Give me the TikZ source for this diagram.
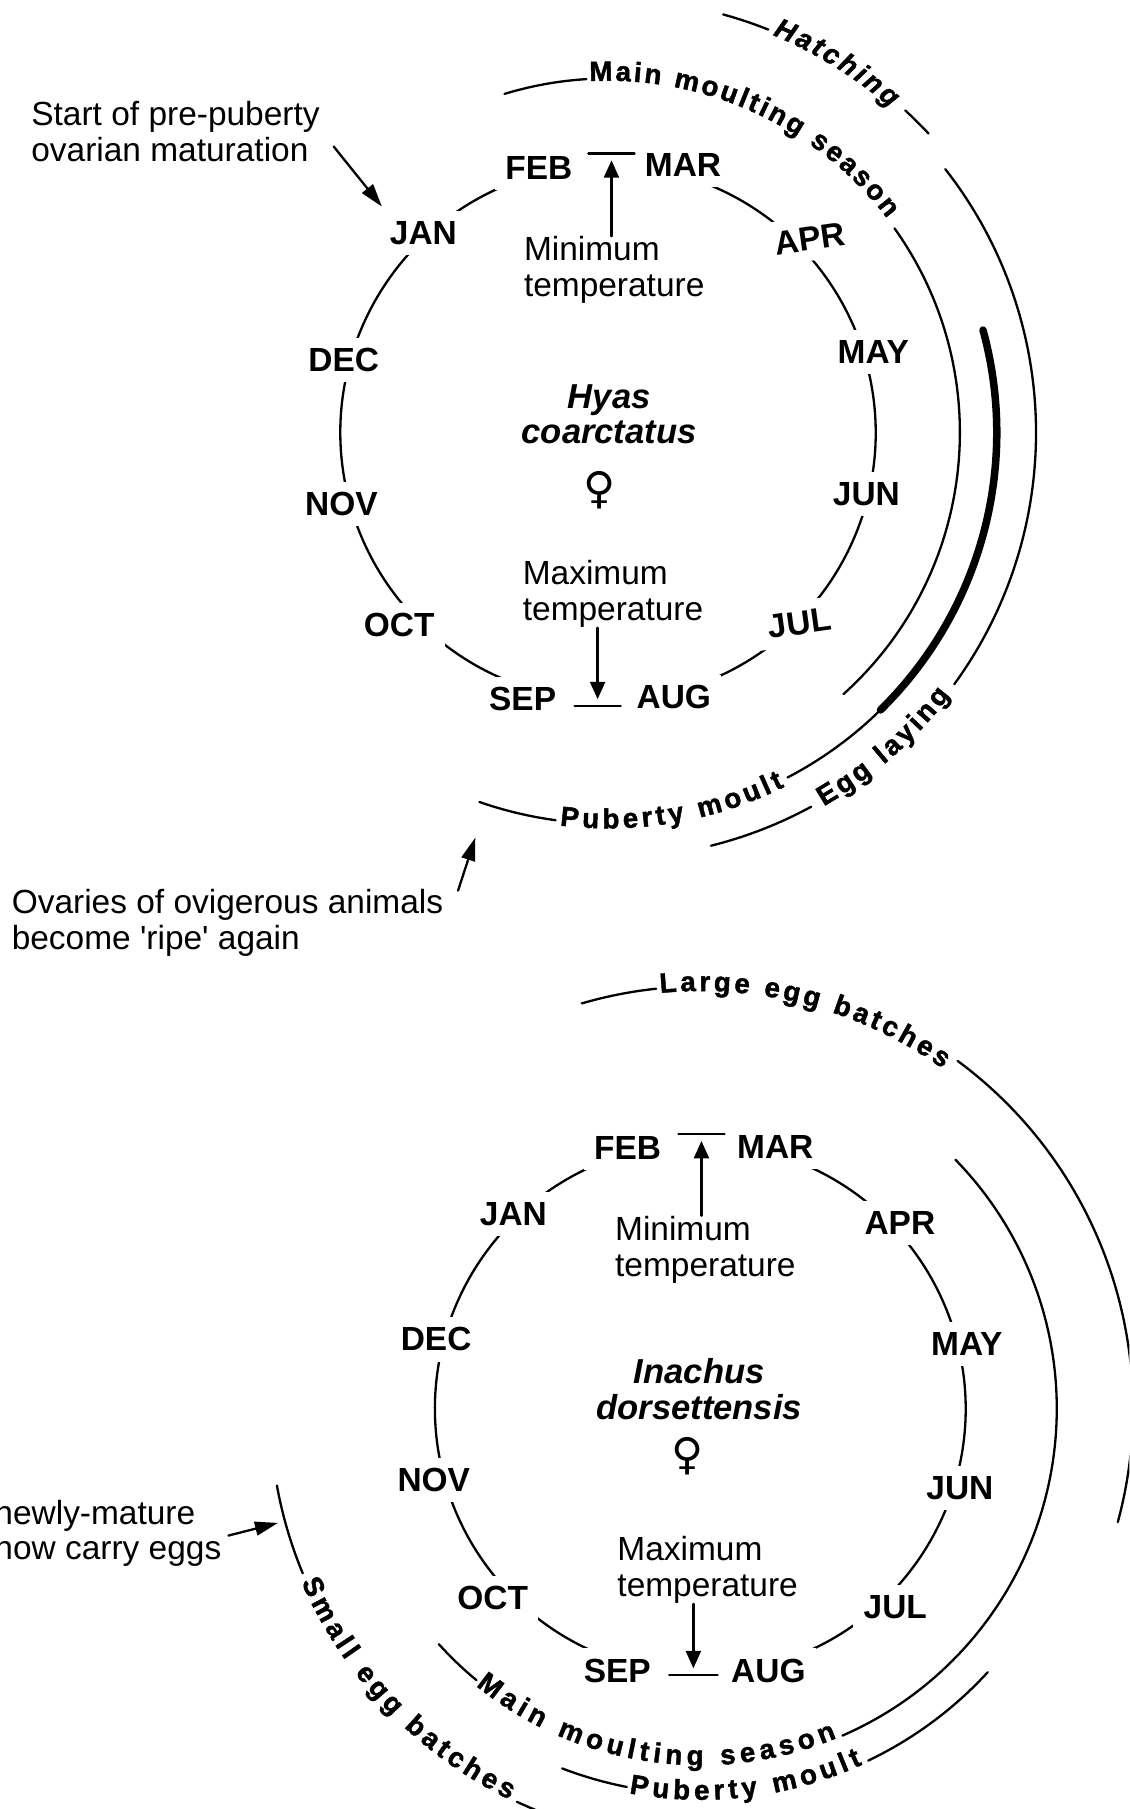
\documentclass[tikz,border=0pt]{standalone}
\usepackage{fontspec}
\setmainfont{Liberation Sans}
\newfontfamily\symfnt{DejaVu Sans}
\newfontfamily\heavyfam{Liberation Sans}[BoldFeatures={FakeBold=1.6},BoldItalicFeatures={FakeBold=1.6}]
\usetikzlibrary{arrows.meta,calc,decorations.text}

\newcommand\monf{\fontsize{29}{30}\selectfont\bfseries}
\newcommand\txtf{\fontsize{29}{31}\selectfont}
\newcommand\spcf{\fontsize{30}{31}\selectfont\bfseries\itshape}
\newcommand\arcf{\heavyfam\bfseries\fontsize{24}{24}\selectfont}
\newcommand\arcif{\heavyfam\bfseries\itshape\fontsize{24}{24}\selectfont}

% plain arc: [opts]{centre}{start}{end}{radius}
\newcommand\carc[5][]{\draw[ln,#1] ($(#2)+(#3:#5pt)$) arc[start angle=#3,end angle=#4,radius=#5pt];}
% text along an arc: {centre}{start}{end}{radius}{font}{text}
\newcommand\tarc[6]{\path[decorate,decoration={text along path,text align={fit to path},text={|#5|#6}}] ($(#1)+(#2:#4pt)$) arc[start angle=#2,end angle=#3,radius=#4pt];}

\begin{document}
\begin{tikzpicture}[x=1pt,y=1pt,
  ln/.style={line width=2pt,line cap=round},
  mon/.style={font=\monf,inner sep=9pt,fill=white},
  txt/.style={font=\txtf,align=left,inner sep=0pt},
  spc/.style={font=\spcf,align=center,inner sep=0pt},
  fem/.style={font=\symfnt\fontsize{38}{38}\selectfont,inner sep=0pt},
  arr/.style={ln,-{Triangle[length=15pt,width=13pt]}},
  arrL/.style={ln,-{Triangle[length=20pt,width=12pt]}}]
\useasboundingbox (0,0) rectangle (979,-1568);
\clip (0,0) rectangle (979,-1568);

%================ TOP : Hyas coarctatus =================
\coordinate (C1) at (527,-375);
\carc{C1}{-76}{74.3}{232}
\carc{C1}{104.7}{252.2}{232}

\node[mon] (feb1) at (467,-146) {FEB};
\node[mon] (mar1) at (592,-143) {MAR};
\node[mon,rotate=8] (apr1) at (702,-207) {APR};
\node[mon] (may1) at (757,-305) {MAY};
\node[mon] (jun1) at (751,-428) {JUN};
\node[mon,rotate=8] (jul1) at (693,-540) {JUL};
\node[mon] (aug1) at (584,-604) {AUG};
\node[mon] (sep1) at (453,-606) {SEP};
\node[mon] (oct1) at (346,-542) {OCT};
\node[mon] (nov1) at (296,-437) {NOV};
\node[mon] (dec1) at (298,-312) {DEC};
\node[mon] (jan1) at (367,-202) {JAN};

\node[txt,anchor=west] (min1) at (454,-234) {Minimum\\temperature};
\node[spc] (sp1) at (528,-359) {Hyas\\coarctatus};
\node[fem] (fem1) at (520,-425) {♀};
\node[txt,anchor=west] (max1) at (453,-515) {Maximum\\temperature};

\coordinate (minbar1) at (530,-133);
\coordinate (maxbar1) at (518,-612);
\draw[ln] ($(minbar1)+(-20,0)$) -- ($(minbar1)+(20,0)$);
\draw[ln] ($(maxbar1)+(-20,0)$) -- ($(maxbar1)+(20,0)$);
\draw[arr] (min1.north -| minbar1) -- ($(minbar1)+(0,-6)$);
\draw[arr] (max1.south -| maxbar1) -- ($(maxbar1)+(0,6)$);

% outer arcs
\carc{C1}{107}{93.5}{307}
\tarc{C1}{93}{37.5}{305}{\arcf}{Main moulting season}
\carc{C1}{35.5}{-48}{305}

\carc{C1}{74.6}{68.3}{376}
\tarc{C1}{67.5}{49}{373}{\arcif}{Hatching}
\carc{C1}{47.3}{43}{380}

\carc{C1}{38}{-36}{371}
\tarc{C1}{-60}{-37.5}{374}{\arcf}{Egg laying}
\carc{C1}{-61.5}{-76}{369}

\carc{C1}{-109.2}{-97.7}{339}
\tarc{C1}{-97}{-63.5}{343}{\arcf}{Puberty moult}
\carc{C1}{-62.5}{-45.5}{337}
\carc[line width=6.5pt]{C1}{-45.5}{15.3}{337}

% side notes
\node[txt,anchor=west] (start) at (27,-114) {Start of pre-puberty\\ovarian maturation};
\coordinate (stail) at ($(start.east)+(12,-13)$);
\coordinate (stip) at (331,-179);
\draw[arrL] (stail) -- (stip);

\node[txt,anchor=west] (ovar) at (10,-800) {Ovaries of ovigerous animals\\become \textquotesingle ripe\textquotesingle{} again};
\coordinate (otail) at (397,-772);
\coordinate (otip) at (412,-726);
\draw[arrL] (otail) -- (otip);

%================ BOTTOM : Inachus dorsettensis =================
\coordinate (C2) at (607,-1221);
\carc{C2}{-75.4}{74}{230}
\carc{C2}{105.6}{252.4}{230}

\node[mon] (feb2) at (544,-995) {FEB};
\node[mon] (mar2) at (672,-994) {MAR};
\node[mon] (apr2) at (780,-1060) {APR};
\node[mon] (may2) at (838,-1165) {MAY};
\node[mon] (jun2) at (832,-1290) {JUN};
\node[mon] (jul2) at (776,-1393) {JUL};
\node[mon] (aug2) at (666,-1448) {AUG};
\node[mon] (sep2) at (535,-1448) {SEP};
\node[mon] (oct2) at (427,-1385) {OCT};
\node[mon] (nov2) at (376,-1283) {NOV};
\node[mon] (dec2) at (378,-1161) {DEC};
\node[mon] (jan2) at (445,-1052) {JAN};

\node[txt,anchor=west] (min2) at (533,-1083) {Minimum\\temperature};
\node[spc] (sp2) at (606,-1204) {Inachus\\dorsettensis};
\node[fem] (fem2) at (596,-1262) {♀};
\node[txt,anchor=west] (max2) at (535,-1361) {Maximum\\temperature};

\coordinate (minbar2) at (608,-983);
\coordinate (maxbar2) at (601,-1452);
\draw[ln] ($(minbar2)+(-20,0)$) -- ($(minbar2)+(20,0)$);
\draw[ln] ($(maxbar2)+(-21,0)$) -- ($(maxbar2)+(21,0)$);
\draw[arr] (min2.north -| minbar2) -- ($(minbar2)+(0,-6)$);
\draw[arr] (max2.south -| maxbar2) -- ($(maxbar2)+(0,6)$);

\carc{C2}{106.3}{96}{366}
\tarc{C2}{95.5}{54.5}{362}{\arcf}{Large egg batches}
\carc{C2}{53.5}{-15.2}{375}

\carc{C2}{-138}{-129.5}{305}
\tarc{C2}{-129}{-67.5}{309}{\arcf}{Main moulting season}
\carc{C2}{-66.5}{44.3}{309}

\carc{C2}{-111}{-101}{334}
\tarc{C2}{-100.5}{-65.5}{339}{\arcf}{Puberty moult}
\carc{C2}{-64.5}{-42.5}{338}

\carc{C2}{190.3}{202.5}{373}
\tarc{C2}{203.5}{244}{377}{\arcf}{Small egg batches}
\carc{C2}{245}{262}{376}

\node[txt,anchor=west] (newly) at (-5,-1329) {newly-mature\\now carry eggs};
\coordinate (ntail) at (198,-1331);
\coordinate (ntip) at (241,-1320);
\draw[arrL] (ntail) -- (ntip);
\end{tikzpicture}
\end{document}
